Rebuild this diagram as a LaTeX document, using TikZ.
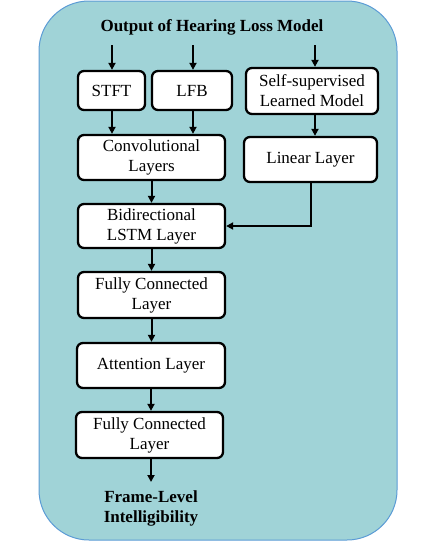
\documentclass[tikz,border=0pt]{standalone}
\usepackage{fontspec}
\setmainfont{Liberation Serif}
\usetikzlibrary{arrows.meta}
\definecolor{panelfill}{RGB}{160,211,215}
\definecolor{panelline}{RGB}{91,155,213}
\tikzset{
  layer/.style={draw, fill=white, line width=2.3pt, rounded corners=6pt, align=center, inner sep=0pt, font=\fontsize{17}{20}\selectfont},
  arr/.style={-{Triangle[length=7pt,width=7pt]}, line width=2pt},
  heading/.style={align=center, inner sep=0pt, font=\fontsize{17}{20}\selectfont\bfseries}
}
\begin{document}
\begin{tikzpicture}[x=1pt, y=-1pt]
    \useasboundingbox (0,0) rectangle (436,541);
    \draw[panelline, fill=panelfill, line width=1pt, rounded corners=50pt] (39,1) rectangle (397,540);
    \node[heading] (title) at (212,27) {Output of Hearing Loss Model};
    \coordinate (in1) at (112,45);
    \coordinate (in2) at (193,45);
    \coordinate (in3) at (315,45);
    \node[layer, minimum width=67pt, minimum height=39pt] (stft) at (111.5,90.5) {STFT};
    \node[layer, minimum width=80pt, minimum height=39pt] (lfb) at (192,90.5) {LFB};
    \node[layer, minimum width=132pt, minimum height=46pt] (ssl) at (312,91) {Self-supervised\\Learned Model};
    \node[layer, minimum width=147pt, minimum height=45pt] (conv) at (151.5,157.5) {Convolutional\\Layers};
    \node[layer, minimum width=133pt, minimum height=45pt] (linear) at (310.5,159.5) {Linear Layer};
    \node[layer, minimum width=147pt, minimum height=44pt] (bilstm) at (151.5,226) {Bidirectional\\LSTM Layer};
    \node[layer, minimum width=147pt, minimum height=46pt] (fca) at (151.5,295) {Fully Connected\\Layer};
    \node[layer, minimum width=148pt, minimum height=45pt] (attn) at (151,365.5) {Attention Layer};
    \node[layer, minimum width=147pt, minimum height=46pt] (fcb) at (149.5,435) {Fully Connected\\Layer};
    \node[heading, anchor=north] (out) at (151,490) {Frame-Level\\Intelligibility};
    \coordinate (outtip) at (151,482);
    \draw[arr] (in1) -- (in1 |- stft.north);
    \draw[arr] (in2) -- (in2 |- lfb.north);
    \draw[arr] (in3) -- (in3 |- ssl.north);
    \draw[arr] (in1 |- stft.south) -- (in1 |- conv.north);
    \draw[arr] (in2 |- lfb.south) -- (in2 |- conv.north);
    \draw[arr] (in3 |- ssl.south) -- (in3 |- linear.north);
    \draw[arr] (linear.south) |- (bilstm.east);
    \draw[arr] (conv.south) -- (bilstm.north);
    \draw[arr] (bilstm.south) -- (fca.north);
    \draw[arr] (fca.south) -- (fca.south |- attn.north);
    \draw[arr] (attn.south) -- (attn.south |- fcb.north);
    \draw[arr] (outtip |- fcb.south) -- (outtip);
  \end{tikzpicture}
\end{document}
